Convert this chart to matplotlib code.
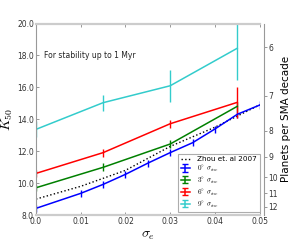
import numpy as np
import matplotlib
matplotlib.use("Agg")
import matplotlib.pyplot as plt

# ---- data ----
sig_blue = [0.0, 0.01, 0.015, 0.02, 0.025, 0.03, 0.035, 0.04, 0.045, 0.05]
k_blue = [8.42, 9.36, 9.92, 10.55, 11.25, 11.91, 12.53, 13.39, 14.31, 14.89]
e_blue = [0.22, 0.22, 0.24, 0.22, 0.22, 0.24, 0.22, 0.22, 0.24, 0.24]

sig_sparse = [0.0, 0.015, 0.03, 0.045]
k_green = [9.71, 10.99, 12.45, 14.81]
e_green = [0.2, 0.25, 0.25, 0.3]
k_red = [10.61, 11.91, 13.72, 15.06]
e_red = [0.2, 0.25, 0.25, 0.95]
k_cyan = [13.37, 15.04, 16.1, 18.45]
e_cyan = [0.5, 0.5, 1.0, 2.0]

sig_zhou = [0.0, 0.01, 0.02, 0.03, 0.04, 0.05]
k_zhou = [9.0, 9.8, 10.8, 12.3, 13.5, 14.9]

planets_ticks = [6, 7, 8, 9, 10, 11, 12]

series = [
    (k_blue, e_blue, sig_blue, "#0000ff", r"$0^{\circ}\ \sigma_{inc}$"),
    (k_green, e_green, sig_sparse, "#008000", r"$3^{\circ}\ \sigma_{inc}$"),
    (k_red, e_red, sig_sparse, "#ff0000", r"$6^{\circ}\ \sigma_{inc}$"),
    (k_cyan, e_cyan, sig_sparse, "#33cccc", r"$9^{\circ}\ \sigma_{inc}$"),
]

plt.rcParams["mathtext.fontset"] = "cm"

fig = plt.figure(figsize=(2.93, 2.40), dpi=100)
ax = fig.add_axes([0.123, 0.104, 0.763, 0.798])

ax.plot(sig_zhou, k_zhou, ls=":", color="k", lw=1.0, label="Zhou et. al 2007")
for k, e, s, c, lab in series:
    ax.errorbar(s, k, yerr=e, color=c, lw=1.1, elinewidth=1.0, capsize=0)
    # proxy with caps for the legend only
    ax.errorbar([np.nan], [np.nan], yerr=[0.1], color=c, lw=1.1, capsize=2.5, label=lab)

ax.set_xlim(0, 0.05)
ax.set_ylim(8, 20)
ax.set_xticks([0.0, 0.01, 0.02, 0.03, 0.04, 0.05])
ax.set_xticklabels(["0.0", "0.01", "0.02", "0.03", "0.04", "0.05"])
ax.set_yticks([8, 10, 12, 14, 16, 18, 20])
ax.set_yticklabels(["8.0", "10.0", "12.0", "14.0", "16.0", "18.0", "20.0"])
ax.tick_params(direction="in", labelsize=5.5, length=2.5, width=0.6,
               color="#888888", labelcolor="#333333", pad=1.5,
               top=True, right=False)

for side in ["top", "bottom"]:
    ax.spines[side].set_color("#cccccc")
    ax.spines[side].set_linewidth(1.6)
ax.spines["left"].set_color("#999999")
ax.spines["left"].set_linewidth(0.8)
ax.spines["right"].set_visible(False)

ax.set_ylabel(r"$K_{50}$", fontsize=10)
ax.yaxis.set_label_coords(-0.094, 0.5)
ax.set_xlabel(r"$\sigma_e$", fontsize=10, labelpad=1)

ax.text(0.0017, 18.0, "For stability up to 1 Myr", fontsize=5.5,
        color="#222222", va="center")

leg = ax.legend(loc="lower right", bbox_to_anchor=(1.0, 0.015), fontsize=5.2,
                frameon=True, fancybox=False, borderaxespad=0.0,
                handlelength=1.3, labelspacing=0.12, borderpad=0.35,
                handletextpad=1.0)
leg.get_frame().set_edgecolor("#999999")
leg.get_frame().set_linewidth(0.8)

# right axis: planets per semi-major-axis decade
ax2 = ax.twinx()
ax2.set_ylim(ax.get_ylim())
tick_pos = [(10 ** (1.0 / n) - 1) * 39.0 + 0.28 for n in planets_ticks]
ax2.set_yticks(tick_pos)
ax2.set_yticklabels([str(n) for n in planets_ticks])
ax2.tick_params(direction="out", labelsize=5.5, length=2, width=0.6,
                color="#888888", labelcolor="#333333", pad=1.5)
for side in ["top", "bottom", "left"]:
    ax2.spines[side].set_visible(False)
ax2.spines["right"].set_position(("outward", 3))
ax2.spines["right"].set_color("#999999")
ax2.spines["right"].set_linewidth(0.8)
ax2.set_ylabel("Planets per SMA decade", fontsize=7.5, labelpad=2)

fig.savefig("out.png", dpi=100)
